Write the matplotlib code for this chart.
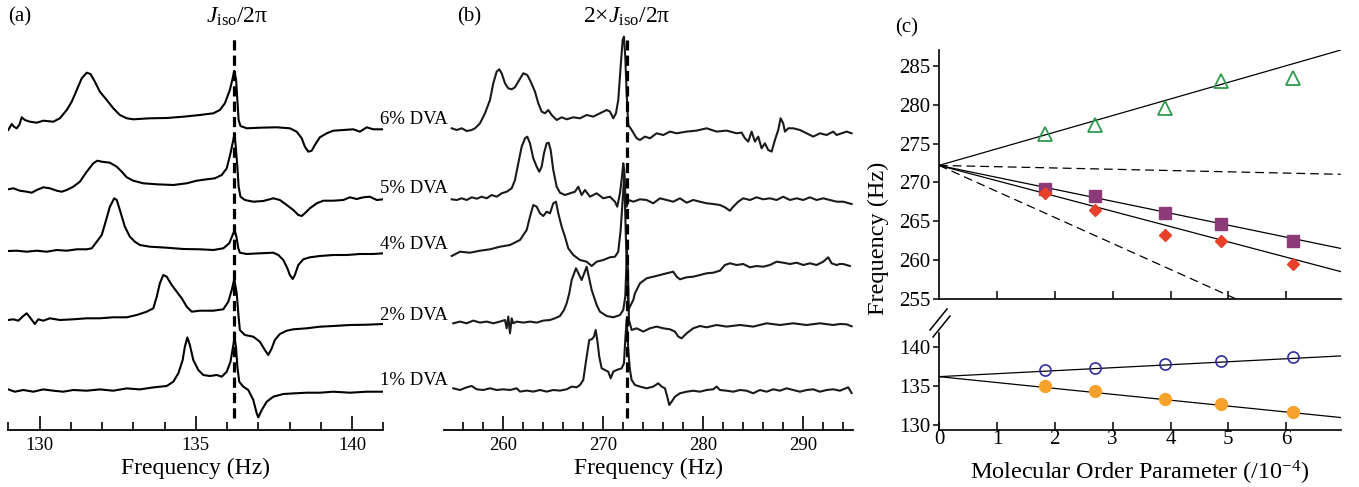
import numpy as np
import matplotlib
matplotlib.use("Agg")
import matplotlib.pyplot as plt
from matplotlib.lines import Line2D

plt.rcParams['font.family'] = ['Liberation Serif', 'DejaVu Serif']
plt.rcParams['mathtext.fontset'] = 'custom'
plt.rcParams['mathtext.rm'] = 'Liberation Serif'
plt.rcParams['mathtext.it'] = 'Liberation Serif:italic'

# ---------------- panel (a): 1H spectra near J_iso/2pi ----------------
a6_hz = [129.00,129.11,129.18,129.27,129.35,129.43,129.53,129.69,129.91,130.12,
         130.44,130.65,130.87,131.03,131.19,131.35,131.51,131.63,131.77,131.93,
         132.15,132.36,132.57,132.79,133.00,133.53,134.07,134.60,135.13,135.56,
         135.77,135.93,136.09,136.18,136.23,136.29,136.33,136.37,136.43,136.63,
         137.05,137.59,138.01,138.23,138.39,138.49,138.60,138.71,138.81,138.97,
         139.19,139.40,139.72,140.04,140.25,140.47,140.68,141.00]
a6_int = [0,6,3.3,1.7,5,12.7,10,8.3,7.3,9.3,
          8.3,11.7,20,28.3,40,51.7,57.3,56,48.3,38.3,
          30,21.7,15,11.7,10.7,11.7,12,13.3,15,16.7,
          20,26.7,40,51.7,59.3,50,30,10,4,1.7,
          2.3,2.7,1.7,-1.7,-8.3,-16.7,-21.7,-20.7,-15,-7.3,
          -3.3,-0.7,0,0.7,-1.7,2.7,0.7,0.7]

a5_hz = [129.00,129.16,129.37,129.59,129.75,129.91,130.12,130.33,130.55,130.71,
         130.87,131.08,131.29,131.51,131.72,131.85,131.99,132.25,132.47,132.63,
         132.79,133.00,133.32,133.75,134.28,134.71,135.03,135.35,135.61,135.83,
         135.99,136.11,136.20,136.23,136.27,136.33,136.37,136.43,136.57,136.84,
         137.16,137.48,137.69,137.91,138.12,138.28,138.39,138.49,138.65,138.87,
         139.08,139.40,139.72,139.93,140.15,140.36,140.57,140.79,141.00]
a5_int = [10.7,11.7,9.3,8.3,7.3,10,12.7,11.7,9.3,8.3,
          10,13.3,18.3,28.3,36.7,39.3,38.3,37.3,33.3,28.3,
          22.7,19.3,16.7,15.7,15,16.7,19.3,20.7,21.7,25,
          31.7,46.7,60,65,56.7,33.3,13.3,3.3,0,-1.7,
          -1,1.7,0,-5,-10,-15,-16,-13.3,-8.3,-3.3,
          -0.7,-0.7,0,2.7,1,2.7,3.3,0,0.7]

a4_hz = [129.00,129.27,129.59,129.91,130.23,130.55,130.87,131.19,131.51,131.67,
         131.83,131.99,132.13,132.25,132.39,132.47,132.57,132.73,132.89,133.05,
         133.21,133.53,134.07,134.60,135.13,135.56,135.88,136.07,136.20,136.25,
         136.31,136.36,136.41,136.63,137.05,137.48,137.64,137.80,137.93,138.01,
         138.10,138.17,138.28,138.44,138.65,138.97,139.40,139.83,140.25,140.68,141.00]
a4_int = [0,0.3,-0.7,0.3,-0.7,1,0.3,1.7,1.7,2.7,
          9.3,16,31,44.3,52.7,51,41,24.3,14.3,9.3,
          6,4.3,3.3,2,1.7,1,2.7,7.7,17.7,20.3,
          12.7,2.7,-1.7,-3,-2.3,-1.7,-4,-9,-17.3,-24,
          -28,-24,-14,-8.3,-6.3,-5,-4,-4,-3,-3,-2.3]

a2_hz = [129.00,129.16,129.32,129.48,129.59,129.69,129.85,129.96,130.12,130.33,
         130.65,131.08,131.51,131.93,132.36,132.79,133.11,133.43,133.64,133.75,
         133.85,133.96,134.07,134.23,134.39,134.55,134.71,134.87,135.13,135.56,
         135.88,136.04,136.15,136.23,136.31,136.36,136.41,136.57,136.84,137.05,
         137.21,137.32,137.43,137.53,137.69,137.91,138.12,138.55,138.97,139.40,
         139.93,140.47,141.00]
a2_int = [0,0.7,-0.7,4,6.7,2.7,-4,0.7,-0.7,1.7,
          0,0.7,1.7,1.7,2.7,2.7,5,8.3,11.7,23.3,
          36.7,45,43.3,35,28.3,21.7,13.3,8.3,9.3,9.3,
          10.7,18.3,30,40.7,26.7,6.7,-10,-15,-16.7,-21.7,
          -30,-35,-28.3,-20,-14,-10.7,-9.3,-8.3,-6.7,-6,
          -5,-4.7,-4]

a1_hz = [129.00,129.21,129.48,129.80,130.12,130.44,130.76,131.08,131.51,131.93,
         132.36,132.79,133.21,133.64,134.07,134.28,134.44,134.58,134.65,134.73,
         134.81,134.92,135.08,135.24,135.45,135.67,135.83,135.99,136.11,136.20,
         136.24,136.29,136.33,136.39,136.52,136.68,136.84,136.95,137.00,137.11,
         137.27,137.48,137.80,138.12,138.55,138.97,139.40,139.93,140.47,141.00]
a1_int = [1.3,-1,0.7,-1,1.3,0,-1,0.7,0,1.3,
          0,2.3,1.3,3.3,4.7,9,17.3,30.7,44,53.3,
          45.7,30.7,20.7,15.7,14.7,15.7,14,19,29,45.7,
          53.3,42.3,24,9,4,0.7,-9.3,-22.7,-26.7,-19.3,
          -11,-6,-3.3,-2.7,-2,-2,-1,-2,-1,-1]

# ---------------- panel (b): spectra near 2 x J_iso/2pi ----------------
b6_hz = [254.84,255.34,255.84,256.34,256.84,257.17,257.67,258.17,258.67,259.00,
         259.34,259.60,259.84,260.17,260.50,260.84,261.17,261.50,262.00,262.40,
         262.74,263.17,263.50,263.84,264.17,264.50,264.84,265.34,265.84,266.34,
         267.00,267.67,268.34,269.00,269.67,270.34,270.67,271.00,271.27,271.50,
         271.74,271.94,272.07,272.20,272.34,272.50,272.84,273.34,273.67,274.17,
         274.67,275.34,276.00,276.67,277.34,278.34,279.34,280.34,281.34,282.34,
         283.34,283.84,284.17,284.50,284.84,285.17,285.50,285.84,286.17,286.50,
         286.84,287.17,287.50,287.74,288.00,288.17,288.50,289.00,289.67,290.34,
         291.00,291.67,292.34,293.00,293.34,293.84,294.34,294.84]
b6_int = [5,3.3,5,2.3,3.3,5,10,20,33.3,50,
          61.7,64,60,50,45,44,46,51.7,60,58.3,
          51.7,41.7,30,21.7,20,23.3,18.3,13.3,16,14,
          16,15,18.3,16.7,20,23.3,21.7,15,20,33.3,
          66.7,93.3,96.7,76.7,40,8.3,3.3,-5,-6.7,-3.3,
          -5,0,-1.7,1.7,0,1.7,2.7,5,1.7,2.7,
          0,0.7,-5,-8.3,1.7,-8.3,-3.3,-15,-10,-16.7,
          -18.3,-6.7,3.3,15,10,1.7,5,5,3.3,0,
          -3.3,0,-1.7,1.7,-1.7,0,1.7,0]

b5_hz = [254.84,255.34,255.84,256.34,256.84,257.34,257.84,258.34,258.84,259.34,
         259.84,260.34,260.84,261.17,261.50,261.84,262.17,262.40,262.67,263.00,
         263.34,263.60,263.84,264.07,264.34,264.54,264.74,265.00,265.34,265.67,
         266.17,266.67,267.17,267.50,267.84,268.17,268.67,269.34,270.00,270.67,
         271.17,271.40,271.67,271.87,272.00,272.10,272.20,272.34,272.54,273.00,
         273.67,274.34,275.00,275.67,276.34,277.00,277.67,278.34,279.00,279.67,
         280.34,281.00,281.67,282.17,282.67,283.00,283.50,284.00,284.67,285.34,
         286.00,286.67,287.34,288.00,288.67,289.34,290.00,290.67,291.34,292.00,
         292.67,293.34,294.00,294.84]
b5_int = [0.7,0,1.7,0,2.7,1.3,3.3,1.7,5,3.3,
          6.7,8.3,11.7,20,36.7,53.3,61.7,63.3,56.7,41.7,
          33.3,28.3,33.3,46.7,56.7,57.3,50,30,13.3,7.3,
          5,6.7,8.3,13.3,5,10,3.3,6.7,1.7,3.3,
          -1.7,-6.7,6.7,23.3,36.7,30,6.7,-6.7,0,-1.7,
          0.7,0,-3.3,1.7,0,-1.7,1.7,-2.7,0,-1.7,
          -3.3,-4,-5,-7.3,-10.7,-6.7,-1.7,1.7,0,2.7,
          0.7,1.7,0,3.3,0,1.7,0,2.7,0,1.7,
          0,-1.7,-1.7,-4]

b4_hz = [254.84,255.67,256.67,257.67,258.67,259.67,260.67,261.67,262.34,262.67,
         263.00,263.34,263.67,264.00,264.34,264.67,265.00,265.27,265.50,265.84,
         266.17,266.50,267.00,267.67,268.34,268.84,269.34,270.00,270.67,271.17,
         271.50,271.74,271.94,272.10,272.24,272.40,272.50,273.00,273.17,273.67,
         274.34,275.00,275.67,276.34,277.00,277.34,277.67,278.34,279.00,279.67,
         280.34,281.00,281.67,282.17,282.67,283.34,284.00,284.67,285.34,286.00,
         286.67,287.34,288.00,288.67,289.34,290.00,290.67,291.34,292.00,292.50,
         292.84,293.34,293.67,294.00,294.67]
b4_int = [-1,3.3,2.3,4.3,5.7,8.3,10,15,25,38.3,
          50,48.3,41.7,39,43.3,41.7,51.7,53.3,41.7,28.3,
          18.3,6.7,0,-5,-6.7,-11,-6.7,-5,-2.3,-1.7,
          3.3,25,55,80,25,-25,-55,-45,-38.3,-28.3,
          -23.3,-21.7,-20,-18.3,-16.7,-21.7,-24.3,-22.3,-21.7,-20,
          -18.3,-17.7,-15.7,-10,-8.3,-10,-9,-12.3,-11,-11.7,
          -10,-6.7,-7.7,-9,-7.7,-10,-8.3,-10,-6.7,-2.3,
          -8.3,-10,-9,-9,-11]

b2_hz = [255.00,255.67,256.34,257.00,257.67,258.34,259.00,259.67,260.17,260.34,
         260.50,260.67,260.84,261.00,261.34,262.00,262.67,263.34,264.00,264.67,
         265.17,265.67,266.07,266.34,266.60,266.84,267.27,267.84,268.34,268.84,
         269.34,269.67,270.34,271.00,271.67,272.00,272.20,272.30,272.37,272.47,
         272.57,272.84,273.34,274.00,274.67,275.34,276.00,276.67,277.17,277.50,
         277.84,278.34,279.00,279.67,280.34,281.34,282.34,283.67,285.00,286.34,
         287.67,289.00,290.34,291.67,293.00,293.67,294.34,294.84]
b2_int = [0,1.7,0,2.7,0.7,1.7,0,1.7,3.3,-5,
          6.7,-10,5,0,1.7,0.7,1.7,0.7,2.7,3.3,
          5,7.3,13.3,20,30,43.3,55,43.3,56.6,33.3,
          18.3,11.6,7.3,6,8.3,13.3,26.7,53,73,53,
          3.3,-6.7,-5,-8.3,-5,-3.3,-5,-6,-8.3,-13.3,
          -15,-10,-5,-2.7,-4,-1.7,-3.3,-1.7,-3.3,0,
          -1.7,0,-1.7,0,-1.7,-0.7,-1,-3]

b1_hz = [255.00,255.67,256.34,256.84,257.34,258.00,258.67,259.34,260.00,260.67,
         261.34,261.67,262.34,263.00,263.67,264.34,265.00,265.67,266.34,266.84,
         267.34,267.67,268.00,268.34,268.60,268.84,269.07,269.24,269.40,269.60,
         269.84,270.17,270.50,270.74,271.00,271.34,271.84,272.07,272.20,272.34,
         272.50,272.67,272.84,273.17,273.67,274.34,275.00,275.50,275.84,276.17,
         276.40,276.60,276.84,277.17,277.67,278.34,279.00,279.67,280.34,281.00,
         281.34,281.67,282.34,283.00,283.67,284.34,285.00,285.67,286.34,287.00,
         287.67,288.34,289.00,289.67,290.34,291.00,291.67,292.34,293.00,293.67,
         294.50,294.84]
b1_int = [1,-0.7,2,3.3,0,-0.7,1,-0.7,0,-0.7,
          1,-2.3,-1.3,-2.3,-0.7,-2.3,-0.7,-1.3,0,2.7,
          2,4.3,9.3,32.6,49.3,50,52.6,59.3,49.3,32.6,
          21,19.3,17.6,11,17.6,19.3,21,26,49.3,70,
          39.3,19.3,9.3,4.3,2.7,1,2.7,6,2.7,1,
          -7.4,-15.7,-12.4,-7.4,-4,-2.4,-1.4,-2.4,-0.7,0,
          2.7,-0.7,-1.4,-2.4,-0.7,-1.4,-4,-0.7,-2.4,0,
          -1.4,1,-0.7,-2.4,-0.7,0,-2.4,-0.7,0,-1.4,
          2,-3.7]

labels_dva = ['6% DVA', '5% DVA', '4% DVA', '2% DVA', '1% DVA']
offsets_a = [300, 230, 179, 110, 39.3]
offsets_b = [296.7, 230, 175, 106.7, 40.7]
j_iso = 136.23
j2_iso = 272.4

# ---------------- panel (c): peak positions vs order parameter ----------------
order_param = [1.83, 2.69, 3.90, 4.88, 6.11]
freq_tri = [276.3, 277.4, 279.6, 283.1, 283.4]
freq_sq = [269.2, 268.2, 266.1, 264.7, 262.5]
freq_dia = [268.6, 266.4, 263.2, 262.5, 259.5]
freq_open = [137.0, 137.26, 137.7, 138.1, 138.64]
freq_fill = [134.97, 134.36, 133.33, 132.64, 131.6]

hi_icpt = 272.2
hi_slopes_solid = [2.14, -1.54, -1.97]
hi_slopes_dash = [-0.165, -3.35]
lo_icpt = 136.14
lo_slopes = [0.383, -0.755]

W, H = 1359, 487
fig = plt.figure(figsize=(W / 100, H / 100), dpi=100)


def fx(px):
    return px / W


def fy(py):
    return 1 - py / H


def spectrum_axes(rect, xlim, major, minor):
    ax = fig.add_axes(rect)
    ax.set_xlim(*xlim)
    ax.set_ylim(0, 430)
    for s in ['left', 'right', 'top']:
        ax.spines[s].set_visible(False)
    ax.spines['bottom'].set_linewidth(1.3)
    ax.set_yticks([])
    ax.set_xticks(major)
    ax.set_xticks(minor, minor=True)
    ax.tick_params(axis='x', which='major', direction='in', length=10, width=1.2,
                   labelsize=13.5, pad=5)
    ax.tick_params(axis='x', which='minor', direction='in', length=6, width=1.2)
    ax.set_xlabel('Frequency (Hz)', fontsize=17, labelpad=3)
    return ax


ax_a = spectrum_axes([fx(8.3), fy(430), fx(375), 430 / H], (129, 141),
                     [130, 135, 140], list(range(129, 142)))
for hz, inten, off in zip([a6_hz, a5_hz, a4_hz, a2_hz, a1_hz],
                          [a6_int, a5_int, a4_int, a2_int, a1_int], offsets_a):
    ax_a.plot(hz, np.array(inten) + off, color='black', lw=1.5)
ax_a.vlines(j_iso, 12, 393, colors='black', lw=2.3, linestyles=(0, (3.2, 1.6)))

ax_b = spectrum_axes([fx(444), fy(430), fx(408.7), 430 / H], (254.07, 294.95),
                     [260, 270, 280, 290], list(range(256, 295, 2)))
for hz, inten, off in zip([b6_hz, b5_hz, b4_hz, b2_hz, b1_hz],
                          [b6_int, b5_int, b4_int, b2_int, b1_int], offsets_b):
    ax_b.plot(hz, np.array(inten) + off, color='#1a1a1a', lw=1.5)
ax_b.vlines(j2_iso, 12, 390, colors='black', lw=2.3, linestyles=(0, (3.2, 1.6)))

for lab, ypx in zip(labels_dva, [119, 188.3, 245, 315, 380.7]):
    fig.text(fx(448), fy(ypx), lab, ha='right', va='center', fontsize=13.5)

fig.text(fx(8), fy(17), '(a)', ha='left', va='center', fontsize=15)
fig.text(fx(457), fy(17), '(b)', ha='left', va='center', fontsize=15)
fig.text(fx(895), fy(28), '(c)', ha='left', va='center', fontsize=15)
fig.text(fx(237), fy(17), r'$J_{\mathrm{iso}}$/2π', ha='center', va='center', fontsize=17)
fig.text(fx(627), fy(17), r'2×$J_{\mathrm{iso}}$/2π', ha='center', va='center', fontsize=17)

# ---- panel (c) upper part ----
xmax = 6.94
xfit = np.array([0, xmax])
ax_hi = fig.add_axes([fx(939), fy(299), fx(1340.7 - 939), (299 - 50) / H])
ax_hi.set_xlim(0, xmax)
ax_hi.set_ylim(255, 287.06)
for s in ['right', 'top']:
    ax_hi.spines[s].set_visible(False)
for s in ['left', 'bottom']:
    ax_hi.spines[s].set_linewidth(1.2)
for sl in hi_slopes_solid:
    ax_hi.plot(xfit, hi_icpt + sl * xfit, color='black', lw=0.9)
for sl in hi_slopes_dash:
    ax_hi.plot(xfit, hi_icpt + sl * xfit, color='black', lw=0.9, dashes=(7, 4))
ax_hi.plot(order_param, freq_tri, ls='none', marker='^', ms=10, mfc='none',
           mec='#2e9a4e', mew=1.3)
ax_hi.plot(order_param, freq_sq, ls='none', marker='s', ms=8, color='#8c3a78')
ax_hi.plot(order_param, freq_dia, ls='none', marker='D', ms=6, color='#e8412a')
ax_hi.set_xticks(range(1, 7))
ax_hi.set_xticklabels([])
ax_hi.set_yticks(range(255, 290, 5))
ax_hi.tick_params(axis='x', direction='in', length=6, width=1.1)
ax_hi.tick_params(axis='y', direction='out', length=4, width=1.1, labelsize=15, pad=2)

# ---- panel (c) lower part ----
ax_lo = fig.add_axes([fx(939), fy(430), fx(1340.7 - 939), (430 - 333.3) / H])
ax_lo.set_xlim(0, xmax)
ax_lo.set_ylim(129.3, 141.7)
for s in ['right', 'top']:
    ax_lo.spines[s].set_visible(False)
for s in ['left', 'bottom']:
    ax_lo.spines[s].set_linewidth(1.2)
for sl in lo_slopes:
    ax_lo.plot(xfit, lo_icpt + sl * xfit, color='black', lw=0.9)
ax_lo.plot(order_param, freq_open, ls='none', marker='o', ms=8, mfc='none',
           mec='#2e2e9e', mew=1.2)
ax_lo.plot(order_param, freq_fill, ls='none', marker='o', ms=8.5, color='#f5a12a')
ax_lo.set_xticks(range(0, 7))
ax_lo.set_yticks([130, 135, 140])
ax_lo.tick_params(axis='x', direction='in', length=6, width=1.1, labelsize=15, pad=0)
ax_lo.tick_params(axis='y', direction='out', length=4, width=1.1, labelsize=15, pad=2)
ax_lo.set_xlabel('Molecular Order Parameter (/10$^{\\mathrm{-4}}$)', fontsize=17.5, labelpad=7)

fig.text(fx(878), fy(238), 'Frequency (Hz)', rotation=90, ha='center', va='center',
         fontsize=17.5)

# axis-break marks
for dx, dy in [(0, 0), (3, 7)]:
    fig.add_artist(Line2D([fx(930 + dx), fx(947 + dx)], [fy(330 + dy), fy(309 + dy)],
                          color='black', lw=1.1))

fig.savefig('out.png', dpi=100)
